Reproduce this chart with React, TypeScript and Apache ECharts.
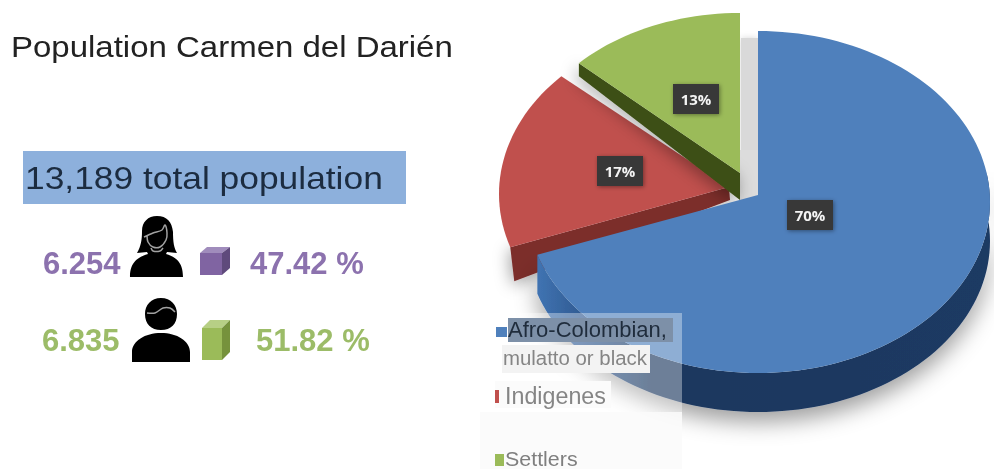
import React, { useEffect, useRef } from "react";
import * as echarts from "echarts";

const categories = ["Afro-Colombian, mulatto or black", "Indigenes", "Settlers"];
const shareValues = [70, 17, 13];
const chartTitle = "Population Carmen del Darién";
const totalLabel = "13,189 total population";
const womenCount = "6.254";
const womenShare = "47.42 %";
const menCount = "6.835";
const menShare = "51.82 %";

const sliceLooks = [
  { top: "#4f80bc", apex: [758, 195], c: [758, 202], rx: 232, ry: 171, label: [810, 215], wall: [80, 252], depth: 39, z: 3 },
  { top: "#c0504d", side: "#7c2d2b", apex: [729, 187], c: [729, 194], rx: 230, ry: 172, label: [620, 171], rimDrop: [4, 34], apexDrop: [1, 13], z: 1 },
  { top: "#9bbb59", side: "#3d4f16", apex: [740, 173], c: [740, 172], rx: 221, ry: 159, label: [696, 99], rimDrop: [0, 13], apexDrop: [0, 27], z: 2 },
];

echarts.graphic.registerShape("woman", echarts.graphic.extendPath(
  "M27 0 C37 0 42 6 43 16 C43 26 44 32 47 37 L37 36 L36 38 C46 41 53 46 53 61 L0 61 C0 46 8 41 18 38 L17 36 L7 37 C11 30 12 24 12 15 C12 6 18 0 27 0 Z", {}));
echarts.graphic.registerShape("man", echarts.graphic.extendPath(
  "M29 0 C39 0 45 7 45 16 C45 26 39 32 29 32 C19 32 13 26 13 16 C13 7 19 0 29 0 Z M29 35 C45 35 58 43 58 54 L58 64 L0 64 L0 54 C0 43 13 35 29 35 Z", {}));

const rimPoint = (look: any, deg: number) => {
  const t = (deg * Math.PI) / 180;
  return [look.c[0] + look.rx * Math.sin(t), look.c[1] - look.ry * Math.cos(t)];
};
const arc = (look: any, from: number, to: number) => {
  const pts: number[][] = [];
  const n = Math.max(2, Math.ceil(Math.abs(to - from) / 2));
  for (let i = 0; i <= n; i++) pts.push(rimPoint(look, from + ((to - from) * i) / n));
  return pts;
};

const renderSlice = (params: any, api: any) => {
  const i = params.dataIndex;
  const look: any = sliceLooks[i];
  const total = shareValues.reduce((a, b) => a + b, 0);
  const before = shareValues.slice(0, i).reduce((a, b) => a + b, 0);
  const start = (before / total) * 360;
  const end = start + (api.value(0) / total) * 360;
  const rim = arc(look, start, end);
  const children: any[] = [];
  if (look.wall) {
    const [a, b] = look.wall;
    const upper = arc(look, a, b);
    const lower = upper.map((p) => [p[0], p[1] + look.depth]).reverse();
    children.push({
      type: "polygon", z2: look.z,
      shape: { points: [...upper, ...lower] },
      style: {
        fill: {
          type: "linear", x: 540, y: 0, x2: 990, y2: 0, global: true,
          colorStops: [{ offset: 0, color: "#3f72b0" }, { offset: 0.13, color: "#2b5287" }, { offset: 0.25, color: "#1c375e" }, { offset: 1, color: "#1d3a63" }],
        },
        shadowBlur: 22, shadowColor: "rgba(0,0,0,0.38)", shadowOffsetY: 10,
      },
    });
  }
  if (look.side) {
    const p = rim[0];
    children.push({
      type: "polygon", z2: look.z,
      shape: { points: [look.apex, p, [p[0] + look.rimDrop[0], p[1] + look.rimDrop[1]], [look.apex[0] + look.apexDrop[0], look.apex[1] + look.apexDrop[1]]] },
      style: { fill: look.side, shadowBlur: 16, shadowColor: "rgba(0,0,0,0.35)", shadowOffsetX: -2, shadowOffsetY: 4 },
    });
  }
  children.push({
    type: "polygon", z2: look.z + 0.5,
    shape: { points: [look.apex, ...rim] },
    style: { fill: look.top },
  });
  children.push({
    type: "rect", z2: 10,
    shape: { x: look.label[0] - 23, y: look.label[1] - 15, width: 46, height: 30 },
    style: { fill: "#383838", shadowBlur: 4, shadowColor: "rgba(0,0,0,0.4)", shadowOffsetX: 1, shadowOffsetY: 1 },
  });
  children.push({
    type: "text", z2: 11, x: look.label[0], y: look.label[1],
    style: {
      text: `${api.value(0)}%`, fill: "#f4f4f4", font: "bold 15px 'Open Sans'",
      textAlign: "center", textVerticalAlign: "middle",
    },
  });
  return { type: "group", children };
};

const txt = (text: string, x: number, y: number, font: string, fill: string, scaleX = 1, z = 20) => ({
  type: "text", x, y, scaleX, z,
  style: { text, font, fill, textAlign: "left", textVerticalAlign: "middle" },
});
const box = (x: number, y: number, width: number, height: number, fill: string, z = 12) => ({
  type: "rect", z, shape: { x, y, width, height }, style: { fill },
});
const poly = (points: number[][], fill: string, z = 5) => ({
  type: "polygon", z, shape: { points }, style: { fill },
});
const line = (points: number[][], z = 6) => ({
  type: "polyline", z, shape: { points, smooth: 0.3 }, style: { fill: "none", stroke: "#a2a2a2", lineWidth: 1.5 },
});

const SANS = "'Liberation Sans'";

const graphics: any[] = [
  { type: "rect", z: 0, shape: { x: 741, y: 38, width: 17, height: 160 }, style: { fill: "#d9d9d9", shadowBlur: 6, shadowColor: "rgba(0,0,0,0.15)" } },
  { type: "rect", z: 0, shape: { x: 740, y: 150, width: 20, height: 50 }, style: { fill: "#dcdcdc" } },

  txt(chartTitle, 11, 47, `30px ${SANS}`, "#222222", 1.1),
  box(23, 151, 383, 53, "#8db0dc", 5),
  txt(totalLabel, 25, 178, `32px ${SANS}`, "#1c2c40", 1.105),

  txt(womenCount, 43, 263, `bold 31px ${SANS}`, "#8c72ae"),
  { type: "woman", x: 130, y: 216, z: 5, style: { fill: "#000" } },
  line([[144, 237], [153, 233], [162, 230], [165, 225], [167, 233], [166, 240], [160, 247], [153, 247], [148, 242], [147, 235]]),
  line([[151, 248], [153, 251], [160, 251], [163, 248]]),
  poly([[200, 253], [222, 253], [222, 275], [200, 275]], "#8064a2"),
  poly([[200, 253], [207, 247], [230, 247], [222, 253]], "#a08cbc"),
  poly([[222, 253], [230, 247], [230, 268], [222, 275]], "#5f4a7c"),
  txt(womenShare, 250, 263, `bold 31px ${SANS}`, "#8c72ae"),

  txt(menCount, 42, 340, `bold 31px ${SANS}`, "#9cbc68"),
  { type: "man", x: 132, y: 298, z: 5, style: { fill: "#000" } },
  line([[147, 313], [155, 313], [163, 308], [170, 308], [175, 312]]),
  poly([[202, 328], [222, 328], [222, 360], [202, 360]], "#9bbb59"),
  poly([[202, 328], [210, 320], [230, 320], [222, 328]], "#b7cf85"),
  poly([[222, 328], [230, 320], [230, 352], [222, 360]], "#76923c"),
  txt(menShare, 256, 340, `bold 31px ${SANS}`, "#9cbc68"),

  { type: "rect", z: 10, shape: { x: 480, y: 313, width: 202, height: 156 }, style: { fill: "rgba(255,255,255,0.36)" } },
  { type: "rect", z: 11, shape: { x: 480, y: 412, width: 202, height: 57 }, style: { fill: "rgba(250,250,250,0.85)" } },
  box(508, 318, 165, 24, "#7d90a8"),
  box(502, 345, 148, 28, "#f3f3f3"),
  box(495, 381, 116, 27, "#fbfbfb"),
  box(496, 327, 11, 10, "#4f80bc", 15),
  txt("Afro-Colombian,", 508, 329, `22px ${SANS}`, "#1f2c3c"),
  txt("mulatto or black", 503, 358, `20px ${SANS}`, "#858585", 1.02),
  box(495, 390, 4, 13, "#c0504d", 15),
  txt(categories[1], 505, 396, `24px ${SANS}`, "#858585", 0.97),
  box(495, 454, 9, 12, "#9bbb59", 15),
  txt(categories[2], 505, 459, `21px ${SANS}`, "#7f7f7f", 1.02),
];

export default function App() {
  const ref = useRef<HTMLDivElement>(null);
  useEffect(() => {
    const chart = echarts.init(ref.current!, null, { renderer: "svg" });
    chart.setOption({
      animation: false,
      backgroundColor: "#ffffff",
      graphic: { elements: graphics },
      series: [
        {
          type: "custom",
          coordinateSystem: "none",
          z: 3,
          clip: false,
          silent: true,
          renderItem: renderSlice,
          data: shareValues.map((v, i) => ({ name: categories[i], value: [v] })),
        },
      ],
    });
    return () => chart.dispose();
  }, []);
  return <div ref={ref} style={{ position: "absolute", left: 0, top: 0, width: 994, height: 469, filter: "blur(0.5px)" }} />;
}
